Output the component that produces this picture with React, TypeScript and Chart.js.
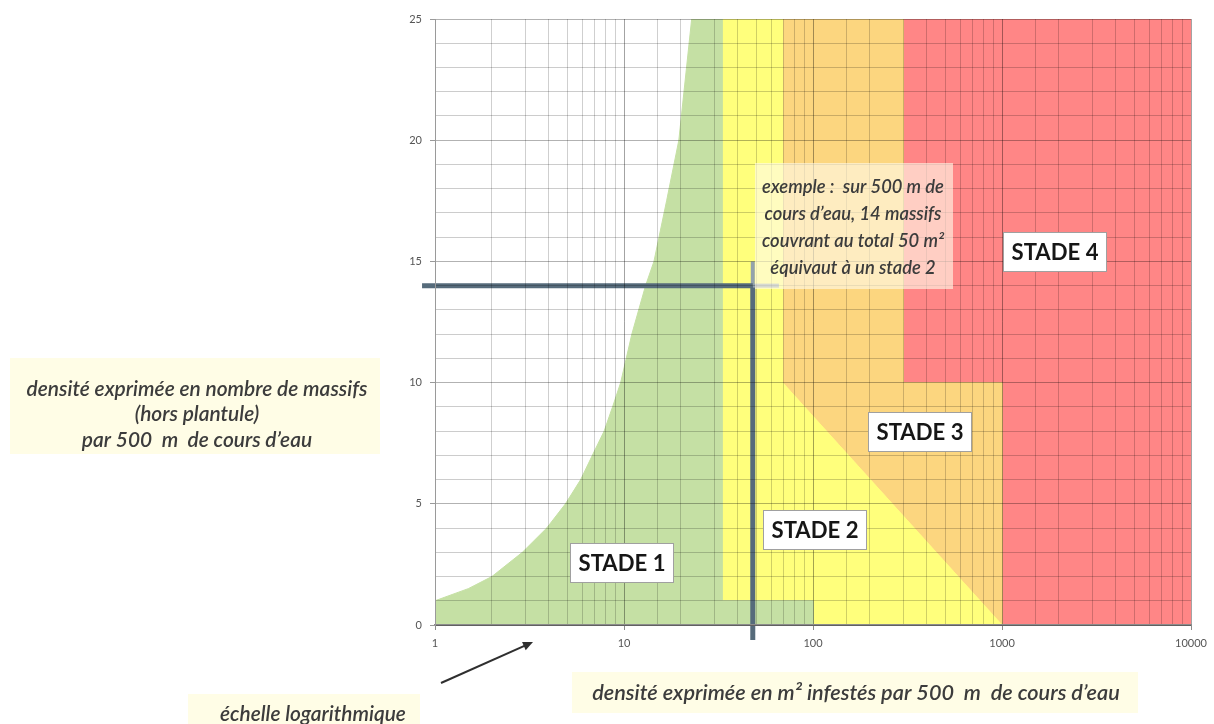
import React, { useEffect, useRef } from "react";
import { Chart, registerables } from "chart.js";

Chart.register(...registerables);

// ---- Data ----
// Stage polygons: x = m² infestés par 500 m (log), y = nombre de massifs
const stade1X = [1, 1, 1.5, 2, 2.9, 3.9, 4.9, 5.9, 6.8, 7.85, 8.7, 9.6, 11, 13, 14.4, 16.8, 19.5, 22.8, 33, 33, 100, 100];
const stade1Y = [0, 1, 1.5, 2, 3, 4, 5, 6, 7, 8, 9, 10, 12, 14, 15, 17.5, 20, 25, 25, 1, 1, 0];
const stade2X = [33, 33, 69, 69, 1000, 100, 100];
const stade2Y = [1, 25, 25, 10, 0, 0, 1];
const stade3X = [69, 300, 300, 1000, 1000, 69];
const stade3Y = [25, 25, 10, 10, 0, 10];
const stade4X = [300, 10000, 10000, 1000, 1000, 300];
const stade4Y = [25, 25, 0, 0, 10, 10];

// Example reading: 14 massifs, ~50 m²
const exampleMassifs = 14;
const exampleSurface = 48;
const exampleLineStartX = 0.854; // horizontal guide starts just left of the axis
const exampleLineEndX = 66;
const exampleLineTopY = 15;
const exampleLineBottomY = -0.62;

const xTickValues = [1, 10, 100, 1000, 10000];
const xTickLabels = ["1", "10", "100", "1000", "10000"];
const yTickValues = [0, 5, 10, 15, 20, 25];
const yTickLabels = ["0", "5", "10", "15", "20", "25"];

const stageLabels = ["STADE 1", "STADE 2", "STADE 3", "STADE 4"];
const exampleText = [
  "exemple :  sur 500 m de",
  "cours d\u2019eau, 14 massifs",
  "couvrant au total 50 m\u00b2",
  "\u00e9quivaut \u00e0 un stade 2",
];
const yTitleText = ["densit\u00e9 exprim\u00e9e en nombre de massifs", "(hors plantule)", "par 500  m  de cours d\u2019eau"];
const xTitleText = "densit\u00e9 exprim\u00e9e en m\u00b2 infest\u00e9s par 500  m  de cours d\u2019eau";
const logNoteText = "\u00e9chelle logarithmique";

const zip = (xs: number[], ys: number[]) => xs.map((x, i) => ({ x, y: ys[i] }));

const decadeIndex = (v: number) => xTickValues.findIndex((t) => Math.abs(t - v) < 1e-6 * t);

const FONT = "Lato, 'Open Sans', 'DejaVu Sans', sans-serif";

function fitSize(ctx: CanvasRenderingContext2D, text: string, width: number, style: string) {
  ctx.font = `${style} 20px ${FONT}`;
  const w = ctx.measureText(text).width;
  return (20 * width) / w;
}

const annotationPlugin = {
  id: "annotationsCustom",
  afterDraw(chart: any) {
    const ctx: CanvasRenderingContext2D = chart.ctx;
    ctx.save();

    // Example box (semi-transparent)
    ctx.fillStyle = "rgba(255,250,232,0.62)";
    ctx.fillRect(755, 163, 198, 126);
    const exSize = fitSize(ctx, exampleText[0], 182, "italic 600");
    ctx.font = `italic 600 ${exSize}px ${FONT}`;
    ctx.fillStyle = "#3c3c3c";
    ctx.textAlign = "center";
    ctx.textBaseline = "middle";
    const exY = [187, 214, 241, 268];
    exampleText.forEach((t, i) => ctx.fillText(t, 853, exY[i]));

    // Stage label boxes
    const boxes = [
      { cx: 622, cy: 563 },
      { cx: 815, cy: 530 },
      { cx: 920, cy: 432 },
      { cx: 1055, cy: 252 },
    ];
    const stSize = fitSize(ctx, stageLabels[0], 87, "bold");
    stageLabels.forEach((t, i) => {
      const b = boxes[i];
      const w = 104, h = 40;
      ctx.fillStyle = "#ffffff";
      ctx.fillRect(b.cx - w / 2, b.cy - h / 2, w, h);
      ctx.strokeStyle = "#a0a0a0";
      ctx.lineWidth = 1;
      ctx.strokeRect(b.cx - w / 2 + 0.5, b.cy - h / 2 + 0.5, w - 1, h - 1);
      ctx.fillStyle = "#161616";
      ctx.font = `bold ${stSize}px ${FONT}`;
      ctx.fillText(t, b.cx, b.cy + 1);
    });

    // Y title box
    ctx.fillStyle = "#fffde6";
    ctx.fillRect(10, 358, 370, 96);
    const ySize = fitSize(ctx, yTitleText[0], 341, "italic 600");
    ctx.font = `italic 600 ${ySize}px ${FONT}`;
    ctx.fillStyle = "#3c3c3c";
    const yTY = [389, 414, 440];
    yTitleText.forEach((t, i) => ctx.fillText(t, 197, yTY[i]));

    // X title box
    ctx.fillStyle = "#fffde6";
    ctx.fillRect(572, 672, 566, 41);
    const xSize = fitSize(ctx, xTitleText, 528, "italic 600");
    ctx.font = `italic 600 ${xSize}px ${FONT}`;
    ctx.fillStyle = "#3c3c3c";
    ctx.fillText(xTitleText, 856, 693);

    // Log note box
    ctx.fillStyle = "#fffde6";
    ctx.fillRect(188, 694, 232, 30);
    const lSize = fitSize(ctx, logNoteText, 186, "italic 600");
    ctx.font = `italic 600 ${lSize}px ${FONT}`;
    ctx.fillStyle = "#3c3c3c";
    ctx.textAlign = "left";
    ctx.fillText(logNoteText, 220, 714);

    // Arrow
    const ax0 = 441, ay0 = 683, ax1 = 533, ay1 = 642;
    const ang = Math.atan2(ay1 - ay0, ax1 - ax0);
    ctx.strokeStyle = "#2f2f2f";
    ctx.fillStyle = "#2f2f2f";
    ctx.lineWidth = 2;
    ctx.beginPath();
    ctx.moveTo(ax0, ay0);
    ctx.lineTo(ax1 - 7 * Math.cos(ang), ay1 - 7 * Math.sin(ang));
    ctx.stroke();
    ctx.beginPath();
    ctx.moveTo(ax1, ay1);
    ctx.lineTo(ax1 - 10 * Math.cos(ang) + 4.5 * Math.sin(ang), ay1 - 10 * Math.sin(ang) - 4.5 * Math.cos(ang));
    ctx.lineTo(ax1 - 10 * Math.cos(ang) - 4.5 * Math.sin(ang), ay1 - 10 * Math.sin(ang) + 4.5 * Math.cos(ang));
    ctx.closePath();
    ctx.fill();

    ctx.restore();
  },
};

export default function App() {
  const canvasRef = useRef<HTMLCanvasElement | null>(null);

  useEffect(() => {
    if (!canvasRef.current) return;
    const GREEN = "#c5e0a4";
    const YELLOW = "#ffff7c";
    const ORANGE = "#fcd67f";
    const RED = "#ff8686";
    const LINE_DARK = "#566b7b";
    const LINE_LIGHT = "#93a2ac";

    const polygon = (label: string, xs: number[], ys: number[], color: string) => ({
      label,
      data: zip(xs, ys),
      showLine: true,
      fill: "shape",
      backgroundColor: color,
      borderColor: color,
      borderWidth: 1,
      pointRadius: 0,
      tension: 0,
      order: 2,
    });

    const guide = (label: string, pts: { x: number; y: number }[], color: string, width: number) => ({
      label,
      data: pts,
      showLine: true,
      fill: false,
      borderColor: color,
      borderWidth: width,
      pointRadius: 0,
      clip: false,
      order: 0,
    });

    const chart = new Chart(canvasRef.current, {
      type: "scatter",
      data: {
        datasets: [
          guide("exH", [{ x: exampleLineStartX, y: exampleMassifs }, { x: exampleSurface, y: exampleMassifs }], LINE_DARK, 5),
          guide("exH2", [{ x: exampleSurface, y: exampleMassifs }, { x: exampleLineEndX, y: exampleMassifs }], LINE_LIGHT, 4),
          guide("exV", [{ x: exampleSurface, y: exampleMassifs }, { x: exampleSurface, y: exampleLineBottomY }], LINE_DARK, 5),
          guide("exV2", [{ x: exampleSurface, y: exampleLineTopY }, { x: exampleSurface, y: exampleMassifs }], LINE_LIGHT, 4),
          polygon("STADE 1", stade1X, stade1Y, GREEN),
          polygon("STADE 2", stade2X, stade2Y, YELLOW),
          polygon("STADE 3", stade3X, stade3Y, ORANGE),
          polygon("STADE 4", stade4X, stade4Y, RED),
        ] as any,
      },
      options: {
        animation: false,
        responsive: true,
        maintainAspectRatio: false,
        layout: { padding: { left: 0, top: 19, right: 20, bottom: 0 } },
        plugins: {
          legend: { display: false },
          tooltip: { enabled: false },
        },
        scales: {
          x: {
            type: "logarithmic",
            min: 1,
            max: 10000,
            afterFit: (s: any) => {
              s.height = 99;
            },
            border: { color: "#8c8c8c", width: 2, z: 1 },
            grid: {
              z: 1,
              color: (c: any) => (decadeIndex(c.tick?.value) >= 0 ? "rgba(0,0,0,0.36)" : "rgba(0,0,0,0.19)"),
              tickColor: (c: any) => (decadeIndex(c.tick?.value) >= 0 ? "#8c8c8c" : "rgba(0,0,0,0)"),
              tickLength: 5,
              lineWidth: 1,
            },
            ticks: {
              autoSkip: false,
              maxRotation: 0,
              padding: 7,
              color: "#555555",
              font: { family: FONT, size: 11 },
              callback: (v: any) => {
                const i = decadeIndex(Number(v));
                return i >= 0 ? xTickLabels[i] : "";
              },
            },
          } as any,
          y: {
            type: "linear",
            min: 0,
            max: 25,
            afterFit: (s: any) => {
              s.width = 435;
            },
            border: { color: "#9a9a9a", width: 1, z: 1 },
            grid: {
              z: 1,
              color: (c: any) => (yTickValues.includes(c.tick?.value) ? "rgba(0,0,0,0.3)" : "rgba(0,0,0,0.2)"),
              tickColor: (c: any) => (yTickValues.includes(c.tick?.value) ? "#9a9a9a" : "rgba(0,0,0,0)"),
              tickLength: 5,
              lineWidth: 1,
            },
            ticks: {
              stepSize: 1,
              autoSkip: false,
              padding: 8,
              color: "#555555",
              font: { family: FONT, size: 11 },
              callback: (v: any) => {
                const i = yTickValues.indexOf(Number(v));
                return i >= 0 ? yTickLabels[i] : "";
              },
            },
          } as any,
        },
      },
      plugins: [annotationPlugin],
    } as any);

    return () => chart.destroy();
  }, []);

  return (
    <div style={{ position: "absolute", left: 0, top: 0, width: 1214, height: 724, background: "#ffffff" }}>
      <canvas ref={canvasRef} />
    </div>
  );
}
